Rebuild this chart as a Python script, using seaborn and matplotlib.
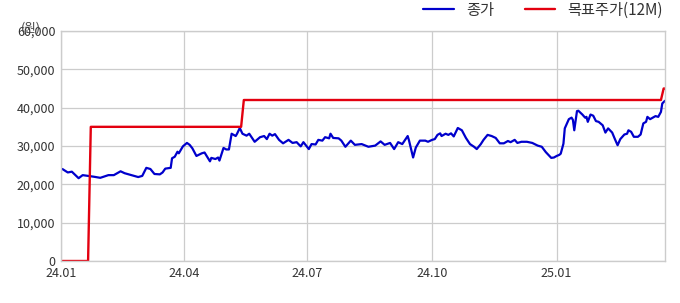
import matplotlib
matplotlib.use("Agg")
import matplotlib.pyplot as plt
import matplotlib.dates as mdates
from matplotlib.ticker import FuncFormatter
import seaborn as sns
import pandas as pd

price_dates = [
    "2024-01-02", "2024-01-06", "2024-01-09", "2024-01-14", "2024-01-17", "2024-01-21",
    "2024-01-25", "2024-01-30", "2024-02-05", "2024-02-09", "2024-02-14", "2024-02-17",
    "2024-02-22", "2024-02-27", "2024-03-01", "2024-03-04", "2024-03-07", "2024-03-10",
    "2024-03-14", "2024-03-16", "2024-03-18", "2024-03-22", "2024-03-23", "2024-03-25",
    "2024-03-27", "2024-03-28", "2024-03-31", "2024-04-03", "2024-04-05", "2024-04-07",
    "2024-04-10", "2024-04-14", "2024-04-16", "2024-04-20", "2024-04-21", "2024-04-24",
    "2024-04-26", "2024-04-27", "2024-04-30", "2024-05-02", "2024-05-04", "2024-05-06",
    "2024-05-09", "2024-05-10", "2024-05-12", "2024-05-14", "2024-05-17", "2024-05-19",
    "2024-05-23", "2024-05-27", "2024-05-30", "2024-06-01", "2024-06-03", "2024-06-05",
    "2024-06-07", "2024-06-10", "2024-06-13", "2024-06-17", "2024-06-20", "2024-06-23",
    "2024-06-26", "2024-06-28", "2024-07-02", "2024-07-04", "2024-07-07", "2024-07-09",
    "2024-07-12", "2024-07-14", "2024-07-17", "2024-07-18", "2024-07-20", "2024-07-24",
    "2024-07-26", "2024-07-29", "2024-08-02", "2024-08-05", "2024-08-10", "2024-08-15",
    "2024-08-20", "2024-08-24", "2024-08-27", "2024-08-31", "2024-09-03", "2024-09-06",
    "2024-09-09", "2024-09-13", "2024-09-14", "2024-09-17", "2024-09-19", "2024-09-22",
    "2024-09-26", "2024-09-28", "2024-10-01", "2024-10-03", "2024-10-05", "2024-10-07",
    "2024-10-08", "2024-10-11", "2024-10-13", "2024-10-15", "2024-10-17", "2024-10-20",
    "2024-10-23", "2024-10-26", "2024-10-29", "2024-11-01", "2024-11-03", "2024-11-06",
    "2024-11-08", "2024-11-11", "2024-11-14", "2024-11-17", "2024-11-20", "2024-11-23",
    "2024-11-26", "2024-11-28", "2024-12-01", "2024-12-03", "2024-12-06", "2024-12-10",
    "2024-12-14", "2024-12-18", "2024-12-21", "2024-12-24", "2024-12-28", "2024-12-30",
    "2025-01-01", "2025-01-03", "2025-01-04", "2025-01-06", "2025-01-07", "2025-01-10",
    "2025-01-12", "2025-01-13", "2025-01-14", "2025-01-16", "2025-01-17", "2025-01-20",
    "2025-01-22", "2025-01-23", "2025-01-24", "2025-01-26", "2025-01-28", "2025-01-30",
    "2025-02-01", "2025-02-04", "2025-02-06", "2025-02-08", "2025-02-11", "2025-02-13",
    "2025-02-15", "2025-02-17", "2025-02-20", "2025-02-22", "2025-02-23", "2025-02-25",
    "2025-02-27", "2025-03-02", "2025-03-04", "2025-03-06", "2025-03-08", "2025-03-09",
    "2025-03-11", "2025-03-13", "2025-03-15", "2025-03-17", "2025-03-19", "2025-03-20",
    "2025-03-22",
]
price_values = [
    24000, 23100, 23300, 21600, 22400, 22200,
    22000, 21700, 22400, 22400, 23400, 22900,
    22400, 21900, 22200, 24300, 24000, 22700,
    22600, 23100, 24100, 24300, 26800, 27200,
    28500, 28100, 29900, 30800, 30300, 29400,
    27400, 28100, 28300, 26000, 26900, 26600,
    27000, 26200, 29500, 29100, 29100, 33200,
    32600, 33200, 34700, 33200, 32700, 33200,
    31100, 32300, 32600, 31800, 33200, 32700,
    33100, 31600, 30700, 31600, 30800, 31000,
    29900, 31000, 29200, 30500, 30400, 31600,
    31400, 32300, 32000, 33200, 32100, 32000,
    31400, 29800, 31400, 30300, 30500, 29800,
    30100, 31200, 30300, 30800, 29200, 31000,
    30500, 32600, 31400, 27000, 29600, 31400,
    31400, 31100, 31600, 31800, 32900, 33300,
    32600, 33200, 32900, 33300, 32500, 34700,
    34100, 32100, 30500, 29800, 29200, 30500,
    31600, 32900, 32600, 32100, 30700, 30700,
    31300, 31000, 31600, 30800, 31100, 31100,
    30800, 30100, 29800, 28400, 26900, 27000,
    27400, 27700, 28000, 30600, 34600, 37000,
    37400, 36800, 34100, 39100, 39200, 38200,
    37400, 37600, 36300, 38200, 37900, 36500,
    36300, 35400, 33500, 34600, 33500, 31800,
    30200, 31800, 33000, 33200, 34100, 33700,
    32400, 32400, 33000, 35900, 36300, 37600,
    37000, 37400, 37800, 37600, 38900, 41100,
    41800,
]

target_dates = ["2024-01-02", "2024-01-21", "2024-01-23", "2024-05-13",
                "2024-05-15", "2025-03-19", "2025-03-21", "2025-03-22"]
target_values = [0, 0, 35000, 35000, 42000, 42000, 45000, 45000]

x_tick_dates = ["2024-01-01", "2024-04-01", "2024-07-01", "2024-10-01", "2025-01-01"]
y_ticks = [0, 10000, 20000, 30000, 40000, 50000, 60000]

price_label = "종가"
target_label = "목표주가(12M)"
unit_label = "(원)"

sns.set_theme(style="white")
plt.rcParams["font.family"] = ["Noto Sans CJK KR", "DejaVu Sans"]

price_df = pd.DataFrame({"date": pd.to_datetime(price_dates), "value": price_values})
target_df = pd.DataFrame({"date": pd.to_datetime(target_dates), "value": target_values})

fig = plt.figure(figsize=(6.8, 3.03), dpi=100)
ax = fig.add_axes([61 / 680, 42 / 303, 604 / 680, 230 / 303])

sns.lineplot(data=price_df, x="date", y="value", ax=ax, color="#0000cc",
             linewidth=1.6, label=price_label, estimator=None)
sns.lineplot(data=target_df, x="date", y="value", ax=ax, color="#e3000f",
             linewidth=1.7, label=target_label, estimator=None)

ax.set_xlim(pd.Timestamp("2024-01-01"), pd.Timestamp("2025-03-22"))
ax.set_ylim(0, 60000)
ax.set_xticks(pd.to_datetime(x_tick_dates))
ax.xaxis.set_major_formatter(mdates.DateFormatter("%y.%m"))
ax.set_yticks(y_ticks)
ax.yaxis.set_major_formatter(FuncFormatter(lambda v, p: f"{int(v):,}"))
ax.set_xlabel("")
ax.set_ylabel("")

ax.grid(True, color="#cccccc", linewidth=0.9)
ax.set_axisbelow(True)
for s in ax.spines.values():
    s.set_color("#cccccc")
    s.set_linewidth(1.0)
ax.tick_params(axis="both", length=0, labelsize=9, labelcolor="#333333", pad=4)

fig.text(21 / 680, 1 - 28 / 303, unit_label, fontsize=9, color="#444444",
         ha="left", va="center")

leg = ax.legend(loc="center right", bbox_to_anchor=((663 - 61) / 604, 1 + 21 / 230), ncol=2,
                frameon=False, fontsize=11, handlelength=2.0, handletextpad=0.8,
                columnspacing=2.0, borderaxespad=0, borderpad=0)
for t in leg.get_texts():
    t.set_color("#333333")

fig.savefig("out.png", dpi=100)
